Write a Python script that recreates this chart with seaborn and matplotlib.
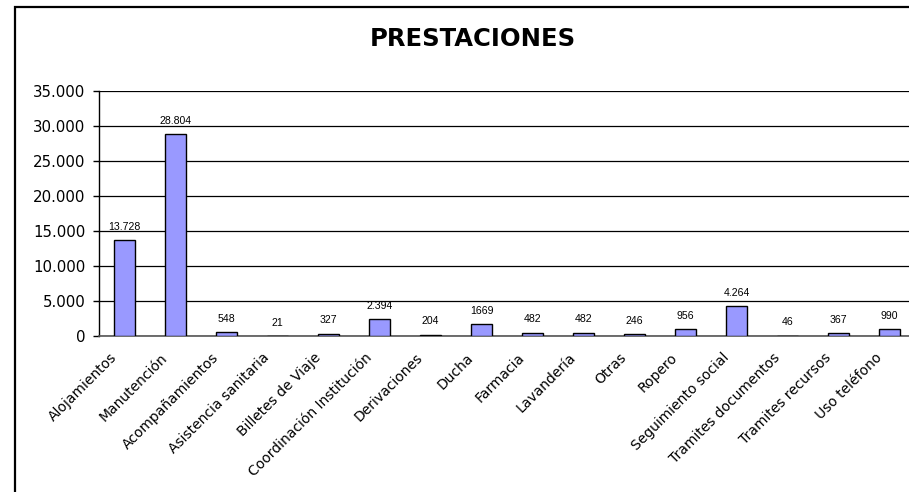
import numpy as np
import pandas as pd
import matplotlib
matplotlib.use("Agg")
import matplotlib.pyplot as plt
import seaborn as sns
from matplotlib.patches import Rectangle
from matplotlib.transforms import ScaledTranslation

categories = ["Alojamientos", "Manutención", "Acompañamientos", "Asistencia sanitaria",
              "Billetes de Viaje", "Coordinación Institución", "Derivaciones", "Ducha",
              "Farmacia", "Lavandería", "Otras", "Ropero", "Seguimiento social",
              "Tramites documentos", "Tramites recursos", "Uso teléfono"]
values = [13728, 28804, 548, 21, 327, 2394, 204, 1669, 482, 482, 246, 956, 4264, 46, 367, 990]
value_labels = ["13.728", "28.804", "548", "21", "327", "2.394", "204", "1669",
                "482", "482", "246", "956", "4.264", "46", "367", "990"]
y_ticks = [0, 5000, 10000, 15000, 20000, 25000, 30000, 35000]
y_tick_labels = ["0", "5.000", "10.000", "15.000", "20.000", "25.000", "30.000", "35.000"]

sns.set_style("white")
plt.rcParams['font.family'] = ['DejaVu Sans']
plt.rcParams['text.color'] = 'black'
plt.rcParams['xtick.labelcolor'] = 'black'
plt.rcParams['ytick.labelcolor'] = 'black'

W, H = 909, 492
fig = plt.figure(figsize=(W / 100, H / 100), dpi=100)
ax = fig.add_axes([99 / W, 1 - 336 / H, 816 / W, 245 / H])

df = pd.DataFrame({"cat": categories, "val": values})
sns.barplot(data=df, x="cat", y="val", color="#9999FF", saturation=1,
            edgecolor="black", linewidth=1, width=0.42, ax=ax, zorder=3)

ax.set_xlim(-0.5, len(categories) - 0.5)
ax.set_ylim(0, 35000)
ax.set_yticks(y_ticks)
ax.set_yticklabels(y_tick_labels, fontsize=10.8, color="black")
ax.yaxis.grid(True, color="black", linewidth=0.9, zorder=0)
ax.set_axisbelow(True)

ax.set_xticks(np.arange(len(categories)))
ax.set_xticklabels(categories, rotation=45, ha="right", va="center",
                   rotation_mode="anchor", fontsize=10.0, color="black")
ax.set_xticks(np.arange(len(categories)) - 0.5, minor=True)
ax.tick_params(axis="x", which="major", length=0, pad=14)
ax.tick_params(axis="x", which="minor", length=4, width=1, color="#555555", direction="out")
ax.tick_params(axis="y", length=4, width=1, color="black", direction="out", pad=6, left=True)
for lbl in ax.get_xticklabels():
    lbl.set_transform(lbl.get_transform() + ScaledTranslation(-10 / 100, 0, fig.dpi_scale_trans))

ax.set_xlabel("")
ax.set_ylabel("")
for s in ["top", "right"]:
    ax.spines[s].set_visible(False)
ax.spines["left"].set_color("black")
ax.spines["left"].set_linewidth(1)
ax.spines["bottom"].set_color("#555555")
ax.spines["bottom"].set_linewidth(1.2)

for i, (v, t) in enumerate(zip(values, value_labels)):
    ax.annotate(t, (i, v), xytext=(0, 6), textcoords="offset points",
                ha="center", va="bottom", fontsize=7.6, family="Liberation Sans")

fig.text(473 / W, 1 - 38.5 / H, "PRESTACIONES", ha="center", va="center",
         fontsize=17.5, fontweight="bold", color="black")

fig.patches.append(Rectangle((15 / W, -0.1), 1.2, 1 - 7 / H + 0.1, transform=fig.transFigure,
                             fill=False, edgecolor="black", linewidth=1.6))

fig.savefig("out.png", dpi=100)
